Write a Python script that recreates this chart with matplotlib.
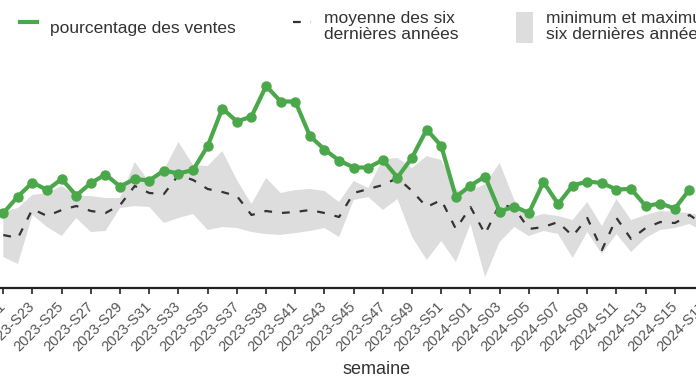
import matplotlib
matplotlib.use("Agg")
import matplotlib.pyplot as plt
from matplotlib.patches import Patch
from matplotlib.lines import Line2D

plt.rcParams['font.family'] = ['Liberation Sans', 'DejaVu Sans']

# semaines 2023-S21 .. 2024-S17
weeks = [f"2023-S{w:02d}" for w in range(21, 53)] + [f"2024-S{w:02d}" for w in range(1, 18)]

# pourcentage des ventes (ends at 2024-S16)
ventes = [1.50, 1.83, 2.11, 1.96, 2.18, 1.85, 2.10, 2.27, 2.03, 2.18,
          2.15, 2.35, 2.29, 2.36, 2.84, 3.59, 3.33, 3.43, 4.04, 3.73,
          3.73, 3.04, 2.77, 2.55, 2.41, 2.41, 2.56, 2.21, 2.61, 3.17,
          2.84, 1.82, 2.05, 2.23, 1.53, 1.63, 1.50, 2.12, 1.68, 2.05,
          2.13, 2.10, 1.97, 1.98, 1.64, 1.69, 1.59, 1.97]

# moyenne des six dernieres annees
moyenne = [1.06, 1.00, 1.58, 1.44, 1.56, 1.64, 1.54, 1.50, 1.66, 2.04,
           1.90, 1.88, 2.26, 2.16, 1.98, 1.92, 1.84, 1.46, 1.54, 1.50,
           1.52, 1.56, 1.50, 1.42, 1.90, 1.98, 2.06, 2.20, 1.94, 1.62,
           1.76, 1.18, 1.62, 1.08, 1.68, 1.60, 1.18, 1.22, 1.32, 1.04,
           1.40, 0.76, 1.40, 0.98, 1.20, 1.32, 1.30, 1.46, 1.26]

# minimum / maximum des six dernieres annees
maximum = [1.52, 1.60, 1.86, 1.90, 2.04, 1.84, 1.84, 1.80, 1.80, 2.52,
           2.12, 2.36, 2.92, 2.46, 2.44, 2.74, 2.16, 1.68, 2.20, 1.90,
           1.96, 1.98, 1.94, 1.72, 2.14, 2.00, 2.58, 2.60, 2.40, 2.64,
           2.56, 1.96, 1.94, 2.08, 2.50, 1.76, 1.40, 1.48, 1.44, 1.36,
           1.72, 1.24, 1.78, 1.36, 1.46, 1.54, 1.52, 1.50, 1.44]
minimum = [0.62, 0.48, 1.46, 1.22, 1.04, 1.40, 1.12, 1.14, 1.60, 1.64,
           1.62, 1.30, 1.40, 1.48, 1.16, 1.22, 1.20, 1.12, 1.08, 1.06,
           1.10, 1.14, 1.20, 1.02, 1.76, 1.82, 1.56, 1.78, 1.02, 0.56,
           0.94, 0.52, 1.28, 0.22, 0.92, 1.22, 1.04, 1.14, 1.08, 0.60,
           1.12, 0.68, 1.08, 0.72, 1.00, 1.16, 1.20, 1.28, 1.12]

W, H = 696, 385
fig = plt.figure(figsize=(W / 100, H / 100), dpi=100)
# axes wider than the figure: the picture is a crop of a larger chart
ax = fig.add_axes([-30 / W, (H - 288) / H, 756 / W, 288 / H])

x = list(range(len(weeks)))
ax.fill_between(x, minimum, maximum, color='#dddddd', lw=0)
ax.plot(x, moyenne, color='#333333', lw=1.6, dashes=(3.5, 4.5))
ax.plot(x[:len(ventes)], ventes, color='#4aa84a', lw=3, marker='o', ms=6.5)

ax.set_xlim(-33.3 / 14.6, 722.7 / 14.6)
ax.set_ylim(0, 5.76)

for s in ['top', 'right', 'left']:
    ax.spines[s].set_visible(False)
ax.spines['bottom'].set_linewidth(1.6)
ax.spines['bottom'].set_color('#222222')
ax.set_yticks([])

ax.set_xticks(x[::2])
ax.set_xticklabels(weeks[::2], rotation=45, ha='right', va='center',
                   rotation_mode='anchor', fontsize=10.5, color='#555555')
ax.tick_params(axis='x', length=4.5, width=1.2, color='#222222', pad=7)

ax.set_xlabel('semaine', fontsize=13, color='#333333')
ax.xaxis.set_label_coords(406.5 / 756, -0.255)

handles = [Line2D([], [], color='#4aa84a', lw=3),
           Line2D([], [], color='#333333', lw=1.6, dashes=(3.5, 4.5)),
           Patch(facecolor='#dddddd', edgecolor='none')]
labels = ['pourcentage des ventes',
          'moyenne des six\ndernières années',
          'minimum et maximum des\nsix dernières années']
leg = fig.legend(handles, labels, loc='upper left', bbox_to_anchor=(20 / W, 1 - 11 / H),
                 ncol=3, frameon=False, fontsize=12.5, handlelength=1.0,
                 handleheight=2.4, handletextpad=0.75, columnspacing=3.3,
                 borderpad=0, borderaxespad=0)
for t in leg.get_texts():
    t.set_linespacing(1.1)
    t.set_color('#333333')

fig.savefig('out.png', dpi=100)
